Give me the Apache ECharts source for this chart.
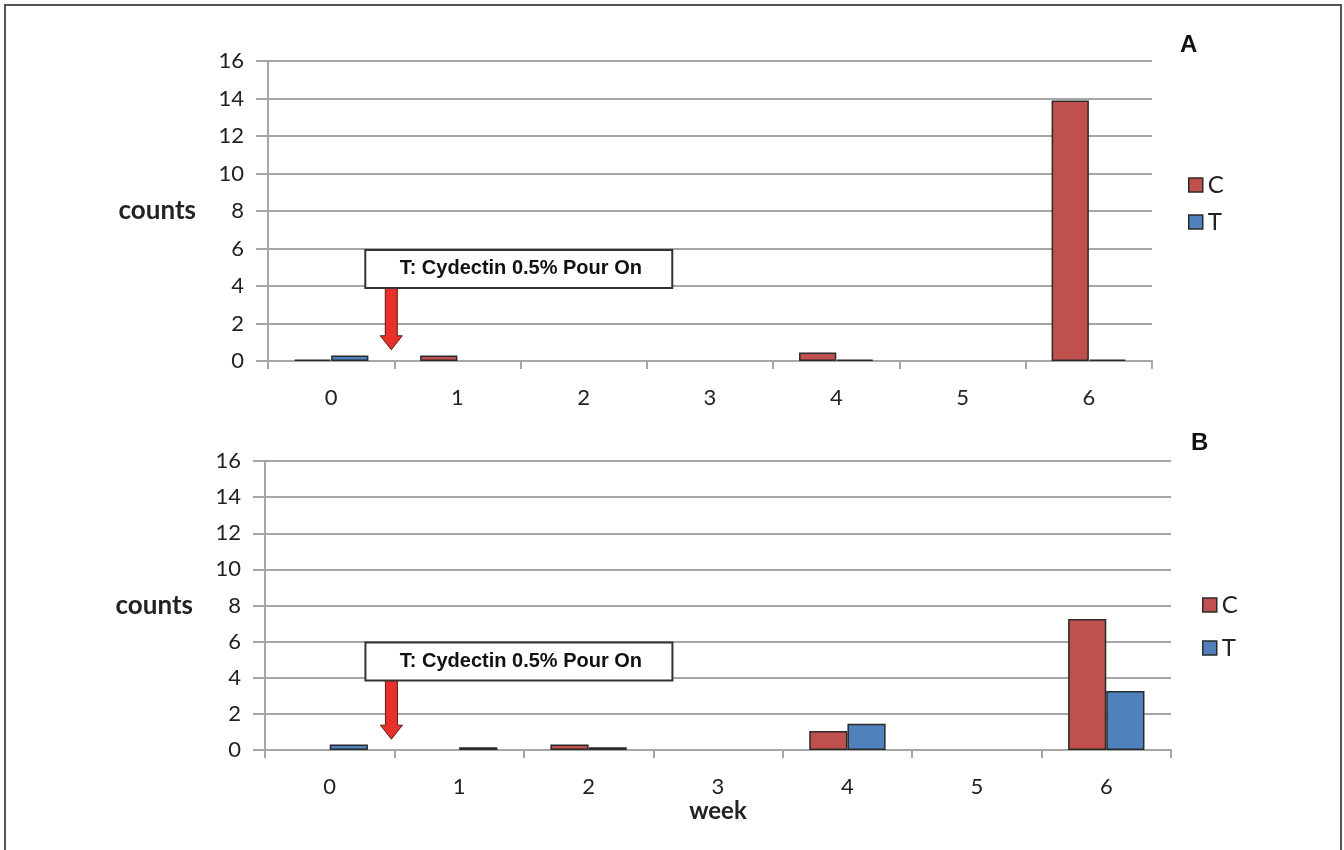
<!DOCTYPE html>
<html>
<head>
<meta charset="utf-8">
<script src="https://cdn.jsdelivr.net/npm/echarts@6/dist/echarts.min.js"></script>
<style>
html,body{margin:0;padding:0;background:#fff;}
#chart{width:1344px;height:850px;}
</style>
</head>
<body>
<div id="chart"></div>
<script>
var weeks = ['0', '1', '2', '3', '4', '5', '6'];
var yTicks = [0, 2, 4, 6, 8, 10, 12, 14, 16];
var cA = [0.08, 0.3, 0, 0, 0.45, 0, 13.9];
var tA = [0.3, 0, 0, 0, 0.08, 0, 0.08];
var cB = [0, 0, 0.3, 0, 1.05, 0, 7.25];
var tB = [0.3, 0.15, 0.15, 0, 1.45, 0, 3.27];
var annotation = 'T: Cydectin 0.5% Pour On';

var FONT = 'Lato';
var GRID_COLOR = '#a6a6a6';
var C_COLOR = '#c0504d';
var T_COLOR = '#4f81bd';

var chart = echarts.init(document.getElementById('chart'));

function xAxis(idx, name) {
  return {
    type: 'category', gridIndex: idx, data: weeks,
    boundaryGap: true,
    axisLine: {lineStyle: {color: GRID_COLOR, width: 2}},
    axisTick: {show: true, length: 8, alignWithLabel: false, lineStyle: {color: GRID_COLOR, width: 2}},
    axisLabel: {color: '#222', fontFamily: FONT, fontSize: 22, margin: 26},
    name: name || '', nameLocation: 'middle', nameGap: 45,
    nameTextStyle: {color: '#222', fontFamily: FONT, fontSize: 24, fontWeight: 'bold'}
  };
}
function yAxis(idx) {
  return {
    type: 'value', gridIndex: idx, min: 0, max: 16, interval: 2,
    axisLine: {show: true, lineStyle: {color: GRID_COLOR, width: 2}},
    axisTick: {show: true, length: 12, lineStyle: {color: GRID_COLOR, width: 2}},
    splitLine: {lineStyle: {color: GRID_COLOR, width: 2}},
    axisLabel: {color: '#222', fontFamily: FONT, fontSize: 22, margin: 24,
      formatter: function (v) { return yTicks.indexOf(v) >= 0 ? String(v) : ''; }},
    name: 'counts', nameLocation: 'middle', nameRotate: 0, nameGap: 72,
    nameTextStyle: {color: '#222', fontFamily: FONT, fontSize: 26, fontWeight: 'bold', align: 'right'}
  };
}
function barSeries(name, data, color, idx) {
  return {
    name: name, type: 'bar', xAxisIndex: idx, yAxisIndex: idx,
    data: data.map(function (v) { return v === 0 ? {value: v, itemStyle: {borderWidth: 0}} : v; }),
    barGap: '0%', barCategoryGap: '41%',
    itemStyle: {color: color, borderColor: '#2a2a2a', borderWidth: 1.5},
    emphasis: {disabled: true}
  };
}
function legend(top, gap, left) {
  return {
    orient: 'vertical', left: left, top: top, itemWidth: 14, itemHeight: 14, itemGap: gap,
    icon: 'rect',
    data: [
      {name: 'C', icon: 'rect', itemStyle: {color: C_COLOR, borderColor: '#2a2a2a', borderWidth: 1.5}},
      {name: 'T', icon: 'rect', itemStyle: {color: T_COLOR, borderColor: '#2a2a2a', borderWidth: 1.5}}
    ],
    textStyle: {color: '#222', fontFamily: FONT, fontSize: 24, lineHeight: 20}
  };
}

chart.setOption({
  animation: false,
  backgroundColor: '#fff',
  grid: [
    {left: 268, right: 192, top: 61, height: 300},
    {left: 265, right: 173, top: 461, height: 289}
  ],
  xAxis: [xAxis(0), xAxis(1, 'week')],
  yAxis: [yAxis(0), yAxis(1)],
  legend: [legend(168, 13, 1183), legend(588, 19, 1197)],
  title: [
    {text: 'A', left: 1175, top: 28, textStyle: {fontFamily: 'Liberation Sans', fontSize: 24, fontWeight: 'bold', color: '#111'}},
    {text: 'B', left: 1186, top: 426, textStyle: {fontFamily: 'Liberation Sans', fontSize: 24, fontWeight: 'bold', color: '#111'}}
  ],
  series: [
    barSeries('C', cA, C_COLOR, 0),
    barSeries('T', tA, T_COLOR, 0),
    barSeries('C', cB, C_COLOR, 1),
    barSeries('T', tB, T_COLOR, 1)
  ]
});

function annot(idx) {
  var p0 = chart.convertToPixel({xAxisIndex: idx, yAxisIndex: idx}, [0, 0]);
  var p1 = chart.convertToPixel({xAxisIndex: idx, yAxisIndex: idx}, [1, 0]);
  var boxTop = chart.convertToPixel({xAxisIndex: idx, yAxisIndex: idx}, [0, idx === 0 ? 5.92 : 5.95]);
  var boxBot = chart.convertToPixel({xAxisIndex: idx, yAxisIndex: idx}, [0, idx === 0 ? 3.9 : 3.85]);
  var tip = chart.convertToPixel({xAxisIndex: idx, yAxisIndex: idx}, [0, 0.6]);
  var ax = (p0[0] + p1[0]) / 2 - 3;
  var top = boxTop[1], bot = boxBot[1], ty = tip[1];
  var left = ax - 26, w = 307;
  var shaft = 6, head = 11, headLen = 14;
  return [
    {type: 'polygon', z: 100,
      shape: {points: [[ax - shaft, bot], [ax + shaft, bot], [ax + shaft, ty - headLen], [ax + head, ty - headLen],
        [ax, ty], [ax - head, ty - headLen], [ax - shaft, ty - headLen]]},
      style: {fill: '#e8302a', stroke: '#5a1a14', lineWidth: 1}},
    {type: 'rect', z: 101, shape: {x: left, y: top, width: w, height: bot - top},
      style: {fill: '#fff', stroke: '#333', lineWidth: 2}},
    {type: 'text', z: 102, x: left + w / 2 + 2, y: (top + bot) / 2,
      style: {text: annotation, fill: '#111', font: 'bold 20px "Liberation Sans"', align: 'center', verticalAlign: 'middle'}}
  ];
}

chart.setOption({
  graphic: [
    {type: 'rect', z: 0, silent: true, shape: {x: 5, y: 5, width: 1336, height: 860},
      style: {fill: 'none', stroke: '#555', lineWidth: 2}}
  ].concat(annot(0), annot(1))
});
</script>
</body>
</html>
